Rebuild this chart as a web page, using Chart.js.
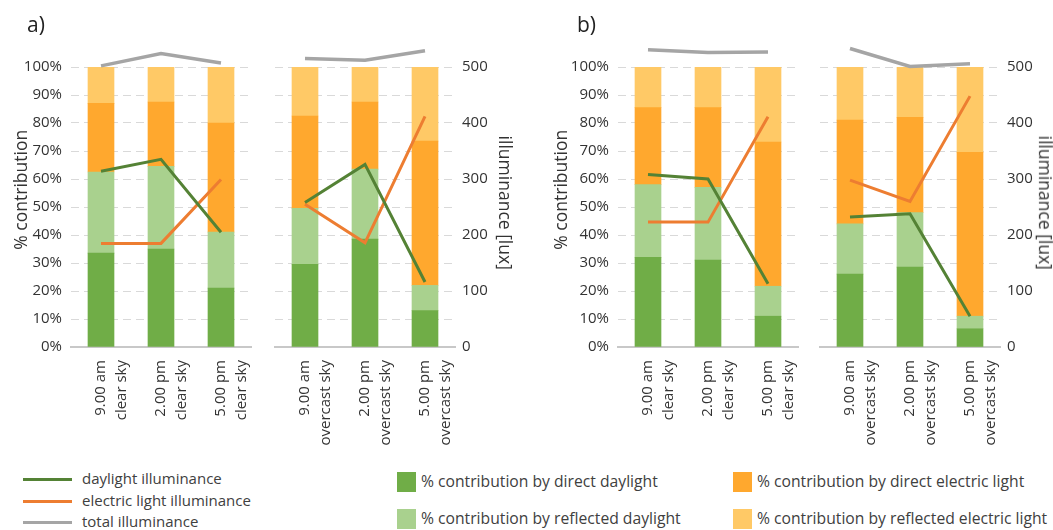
<!DOCTYPE html>
<html>
<head>
<meta charset="utf-8">
<title>Illuminance contribution</title>
<script src="https://cdn.jsdelivr.net/npm/chart.js@4.4.1/dist/chart.umd.min.js"></script>
<style>
    body { margin: 0; background: #fff; font-family: "Open Sans", sans-serif; color: #333; }
    #wrap { position: relative; width: 1053px; height: 530px; overflow: hidden; }
    #wrap canvas { position: absolute; top: 0; }
    .txt { position: absolute; white-space: nowrap; line-height: 1; }
    .panel-tag { font-size: 21px; color: #222; }
    .axis-title { font-size: 17.5px; color: #333; transform-origin: center center; }
    .legend { font-size: 15px; color: #404040; }
    .legend.box { font-size: 15.7px; }
    .swatch-line { position: absolute; height: 3px; width: 49px; }
    .swatch-box { position: absolute; width: 19px; height: 20px; }
</style>
</head>
<body>
<div id="wrap">
    <canvas id="aClear" width="262" height="450" style="left:0px"></canvas>
    <canvas id="aOvercast" width="270" height="450" style="left:262px"></canvas>
    <canvas id="bClear" width="278" height="450" style="left:532px"></canvas>
    <canvas id="bOvercast" width="243" height="450" style="left:810px"></canvas>

    <div class="txt panel-tag" style="left:27px; top:14px;">a)</div>
    <div class="txt panel-tag" style="left:577px; top:14px;">b)</div>

    <div class="txt axis-title" id="tA1">% contribution</div>
    <div class="txt axis-title" id="tA2">illuminance [lux]</div>
    <div class="txt axis-title" id="tB1">% contribution</div>
    <div class="txt axis-title" id="tB2">illuminance [lux]</div>

    <!-- legend -->
    <div class="swatch-line" style="left:23px; top:478px; background:#548235"></div>
    <div class="txt legend" style="left:82px; top:471px;">daylight illuminance</div>
    <div class="swatch-line" style="left:23px; top:500px; background:#ED7D31"></div>
    <div class="txt legend" style="left:82px; top:493px;">electric light illuminance</div>
    <div class="swatch-line" style="left:23px; top:521px; background:#A5A5A5"></div>
    <div class="txt legend" style="left:82px; top:514px;">total illuminance</div>

    <div class="swatch-box" style="left:397px; top:472px; background:#70AD47"></div>
    <div class="txt legend box" style="left:421px; top:474px;">% contribution by direct daylight</div>
    <div class="swatch-box" style="left:397px; top:509px; background:#A9D18E"></div>
    <div class="txt legend box" style="left:421px; top:511px;">% contribution by reflected daylight</div>

    <div class="swatch-box" style="left:733px; top:472px; background:#FFA82E"></div>
    <div class="txt legend box" style="left:757px; top:474px;">% contribution by direct electric light</div>
    <div class="swatch-box" style="left:733px; top:509px; background:#FFC966"></div>
    <div class="txt legend box" style="left:757px; top:511px;">% contribution by reflected electric light</div>
</div>

<script>
// categories
const clearLabels = [['9.00 am', 'clear sky'], ['2.00 pm', 'clear sky'], ['5.00 pm', 'clear sky']];
const overcastLabels = [['9.00 am', 'overcast sky'], ['2.00 pm', 'overcast sky'], ['5.00 pm', 'overcast sky']];

// tick values
const percentTicks = [0, 10, 20, 30, 40, 50, 60, 70, 80, 90, 100];
const luxTicks = [0, 100, 200, 300, 400, 500];

// a) clear sky  (% contributions, then lux)
const aClearDirectDay = [33.5, 35, 21];
const aClearReflDay = [29, 29.5, 20];
const aClearDirectElec = [24.5, 23, 39];
const aClearReflElec = [13, 12.5, 20];
const aClearDayLux = [314, 335, 205];
const aClearElecLux = [185, 185, 299];
const aClearTotalLux = [502, 524, 507];

// a) overcast sky
const aOverDirectDay = [29.5, 38.5, 13];
const aOverReflDay = [20, 25, 9];
const aOverDirectElec = [33, 24, 51.5];
const aOverReflElec = [17.5, 12.5, 26.5];
const aOverDayLux = [258, 326, 116];
const aOverElecLux = [255, 186, 412];
const aOverTotalLux = [515, 512, 529];

// b) clear sky
const bClearDirectDay = [32, 31, 11];
const bClearReflDay = [26, 26, 10.7];
const bClearDirectElec = [27.5, 28.5, 51.5];
const bClearReflElec = [14.5, 14.5, 26.8];
const bClearDayLux = [308, 300, 113];
const bClearElecLux = [223, 223, 411];
const bClearTotalLux = [531, 526, 527];

// b) overcast sky
const bOverDirectDay = [26, 28.5, 6.5];
const bOverReflDay = [18, 19.5, 4.5];
const bOverDirectElec = [37, 34, 58.5];
const bOverReflElec = [19, 18, 30.5];
const bOverDayLux = [232, 238, 55];
const bOverElecLux = [298, 260, 448];
const bOverTotalLux = [533, 501, 506];

const COLORS = {
    directDay: '#70AD47',
    reflDay: '#A9D18E',
    directElec: '#FFA82E',
    reflElec: '#FFC966',
    dayLine: '#548235',
    elecLine: '#ED7D31',
    totalLine: '#A5A5A5'
};

const FONT = "'Open Sans', sans-serif";

// side: 'left' shows the % axis, 'right' shows the lux axis
function buildChart(id, labels, bars, lines, side, pad) {
    const bar = (data, color) => ({
        type: 'bar', data, backgroundColor: color, barThickness: 26,
        yAxisID: 'y', stack: 's', order: 2
    });
    const line = (data, color, w) => ({
        type: 'line', data, borderColor: color, backgroundColor: color,
        borderWidth: w, pointRadius: 0, yAxisID: 'y2', clip: false, order: 1
    });

    return new Chart(document.getElementById(id), {
        data: {
            labels,
            datasets: [
                bar(bars[0], COLORS.directDay),
                bar(bars[1], COLORS.reflDay),
                bar(bars[2], COLORS.directElec),
                bar(bars[3], COLORS.reflElec),
                line(lines[0], COLORS.dayLine, 3),
                line(lines[1], COLORS.elecLine, 3),
                line(lines[2], COLORS.totalLine, 3.5)
            ]
        },
        options: {
            responsive: false,
            animation: false,
            devicePixelRatio: 1,
            layout: { padding: { top: 67, bottom: 0, left: pad.left, right: pad.right } },
            plugins: { legend: { display: false }, tooltip: { enabled: false } },
            scales: {
                x: {
                    stacked: true,
                    grid: { display: false },
                    border: { display: true, color: '#C8C8C8', width: 2 },
                    ticks: {
                        autoSkip: false, minRotation: 90, maxRotation: 90, padding: 5,
                        color: '#333', font: { family: FONT, size: 15, lineHeight: 1.35 }
                    },
                    // fixed height, and no extra side room for the rotated labels
                    afterFit: s => { s.height = 103; s.paddingLeft = 0; s.paddingRight = 0; }
                },
                y: {
                    position: 'left',
                    stacked: true,
                    min: 0, max: 100,
                    afterBuildTicks: s => { s.ticks = percentTicks.map(v => ({ value: v })); },
                    grid: { color: '#D9D9D9', lineWidth: 1, drawTicks: false },
                    border: { display: false, dash: [8, 5] },
                    ticks: {
                        display: side === 'left', padding: 9,
                        color: '#333', font: { family: FONT, size: 15 },
                        callback: v => v + '%'
                    },
                    afterFit: s => { s.width = side === 'left' ? 71 : 0; }
                },
                y2: {
                    position: 'right',
                    min: 0, max: 500,
                    afterBuildTicks: s => { s.ticks = luxTicks.map(v => ({ value: v })); },
                    grid: { display: false, drawTicks: false },
                    border: { display: false },
                    ticks: {
                        display: side === 'right', padding: 7,
                        color: '#333', font: { family: FONT, size: 15 }
                    },
                    afterFit: s => { s.width = side === 'right' ? 40 : 0; }
                }
            }
        }
    });
}

function placeTitle(id, cx, cy, deg) {
    const el = document.getElementById(id);
    const w = el.offsetWidth, h = el.offsetHeight;
    el.style.left = (cx - w / 2) + 'px';
    el.style.top = (cy - h / 2) + 'px';
    el.style.transform = 'rotate(' + deg + 'deg)';
}

document.addEventListener('DOMContentLoaded', () => {
    buildChart('aClear', clearLabels,
        [aClearDirectDay, aClearReflDay, aClearDirectElec, aClearReflElec],
        [aClearDayLux, aClearElecLux, aClearTotalLux], 'left', { left: 0, right: 11 });
    buildChart('aOvercast', overcastLabels,
        [aOverDirectDay, aOverReflDay, aOverDirectElec, aOverReflElec],
        [aOverDayLux, aOverElecLux, aOverTotalLux], 'right', { left: 13, right: 37 });
    buildChart('bClear', clearLabels,
        [bClearDirectDay, bClearReflDay, bClearDirectElec, bClearReflElec],
        [bClearDayLux, bClearElecLux, bClearTotalLux], 'left', { left: 15, right: 12 });
    buildChart('bOvercast', overcastLabels,
        [bOverDirectDay, bOverReflDay, bOverDirectElec, bOverReflElec],
        [bOverDayLux, bOverElecLux, bOverTotalLux], 'right', { left: 10, right: 13 });

    placeTitle('tA1', 21, 190, -90);
    placeTitle('tA2', 505, 203, 90);
    placeTitle('tB1', 561, 190, -90);
    placeTitle('tB2', 1045, 203, 90);
});
</script>
</body>
</html>
